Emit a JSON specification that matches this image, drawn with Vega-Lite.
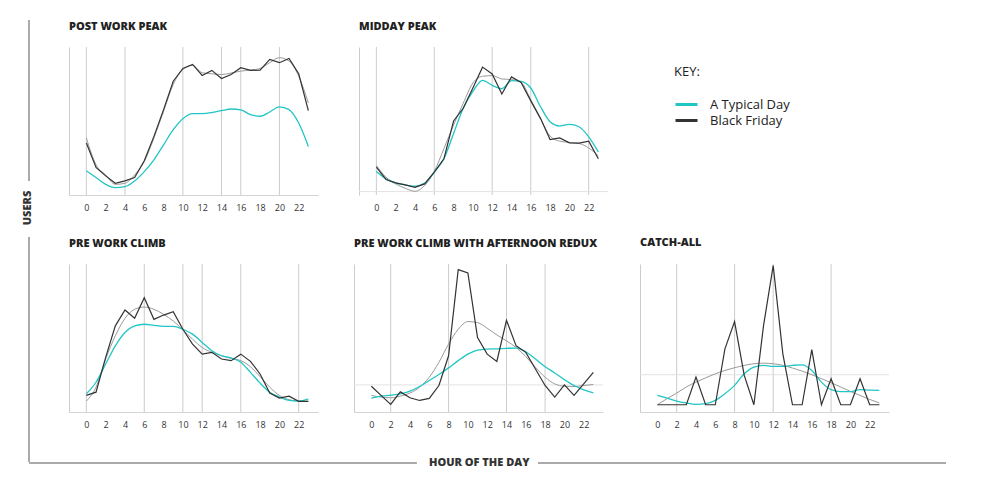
{
"$schema": "https://vega.github.io/schema/vega-lite/v6.json",
"padding": {"left": 21, "top": 19, "right": 5, "bottom": 5},
"spacing": -6,
"datasets": {
"series": [
{"panel":"post","hour":0,"typical":16.3,"friday":35.1,"smooth":38.5},
{"panel":"post","hour":1,"typical":11.8,"friday":18.6,"smooth":20.4},
{"panel":"post","hour":2,"typical":7.2,"friday":12.9,"smooth":13.6},
{"panel":"post","hour":3,"typical":5.0,"friday":7.9,"smooth":7.2},
{"panel":"post","hour":4,"typical":5.7,"friday":9.5,"smooth":7.9},
{"panel":"post","hour":5,"typical":9.5,"friday":11.8,"smooth":13.6},
{"panel":"post","hour":6,"typical":15.8,"friday":23.1,"smooth":22.6},
{"panel":"post","hour":7,"typical":23.8,"friday":39.6,"smooth":38.5},
{"panel":"post","hour":8,"typical":33.9,"friday":57.7,"smooth":56.6},
{"panel":"post","hour":9,"typical":44.1,"friday":76.9,"smooth":74.7},
{"panel":"post","hour":10,"typical":51.6,"friday":85.5,"smooth":84.8},
{"panel":"post","hour":11,"typical":55.0,"friday":88.2,"smooth":87.6},
{"panel":"post","hour":12,"typical":55.0,"friday":80.8,"smooth":82.6},
{"panel":"post","hour":13,"typical":55.7,"friday":84.2,"smooth":81.9},
{"panel":"post","hour":14,"typical":57.0,"friday":78.7,"smooth":81.4},
{"panel":"post","hour":15,"typical":58.1,"friday":81.4,"smooth":82.4},
{"panel":"post","hour":16,"typical":57.5,"friday":86.0,"smooth":83.7},
{"panel":"post","hour":17,"typical":54.3,"friday":84.2,"smooth":84.4},
{"panel":"post","hour":18,"typical":53.2,"friday":84.4,"smooth":85.5},
{"panel":"post","hour":19,"typical":56.1,"friday":91.6,"smooth":89.4},
{"panel":"post","hour":20,"typical":59.5,"friday":89.4,"smooth":92.8},
{"panel":"post","hour":21,"typical":57.7,"friday":92.3,"smooth":90.5},
{"panel":"post","hour":22,"typical":48.6,"friday":81.9,"smooth":80.3},
{"panel":"post","hour":23,"typical":32.8,"friday":57.0,"smooth":62.2},
{"panel":"midday","hour":0,"typical":15.9,"friday":18.9,"smooth":20.0},
{"panel":"midday","hour":1,"typical":10.9,"friday":10.5,"smooth":12.0},
{"panel":"midday","hour":2,"typical":8.2,"friday":8.2,"smooth":7.5},
{"panel":"midday","hour":3,"typical":6.8,"friday":6.8,"smooth":4.5},
{"panel":"midday","hour":4,"typical":5.9,"friday":5.2,"smooth":2.5},
{"panel":"midday","hour":5,"typical":8.0,"friday":7.5,"smooth":6.4},
{"panel":"midday","hour":6,"typical":15.5,"friday":15.5,"smooth":15.9},
{"panel":"midday","hour":7,"typical":24.5,"friday":24.5,"smooth":31.4},
{"panel":"midday","hour":8,"typical":41.6,"friday":50.0,"smooth":47.3},
{"panel":"midday","hour":9,"typical":58.6,"friday":58.6,"smooth":62.0},
{"panel":"midday","hour":10,"typical":70.0,"friday":72.3,"smooth":75.7},
{"panel":"midday","hour":11,"typical":77.5,"friday":86.4,"smooth":80.2},
{"panel":"midday","hour":12,"typical":74.1,"friday":81.8,"smooth":80.7},
{"panel":"midday","hour":13,"typical":71.8,"friday":68.2,"smooth":78.4},
{"panel":"midday","hour":14,"typical":77.3,"friday":79.8,"smooth":78.0},
{"panel":"midday","hour":15,"typical":76.8,"friday":76.1,"smooth":76.1},
{"panel":"midday","hour":16,"typical":72.3,"friday":63.6,"smooth":64.3},
{"panel":"midday","hour":17,"typical":59.8,"friday":51.8,"smooth":51.8},
{"panel":"midday","hour":18,"typical":49.5,"friday":37.5,"smooth":39.8},
{"panel":"midday","hour":19,"typical":46.6,"friday":38.6,"smooth":36.4},
{"panel":"midday","hour":20,"typical":47.7,"friday":35.2,"smooth":35.5},
{"panel":"midday","hour":21,"typical":46.1,"friday":35.0,"smooth":34.8},
{"panel":"midday","hour":22,"typical":39.3,"friday":36.4,"smooth":31.8},
{"panel":"midday","hour":23,"typical":29.1,"friday":24.5,"smooth":26.4},
{"panel":"pre","hour":0,"typical":12.3,"friday":11.2,"smooth":7.4},
{"panel":"pre","hour":1,"typical":20.1,"friday":13.4,"smooth":16.8},
{"panel":"pre","hour":2,"typical":32.4,"friday":36.9,"smooth":35.8},
{"panel":"pre","hour":3,"typical":44.7,"friday":58.2,"smooth":51.5},
{"panel":"pre","hour":4,"typical":53.7,"friday":68.9,"smooth":63.3},
{"panel":"pre","hour":5,"typical":58.2,"friday":63.3,"smooth":69.4},
{"panel":"pre","hour":6,"typical":59.3,"friday":77.2,"smooth":70.9},
{"panel":"pre","hour":7,"typical":58.6,"friday":62.6,"smooth":69.4},
{"panel":"pre","hour":8,"typical":57.9,"friday":65.5,"smooth":66.0},
{"panel":"pre","hour":9,"typical":57.9,"friday":67.8,"smooth":61.5},
{"panel":"pre","hour":10,"typical":55.9,"friday":55.9,"smooth":55.5},
{"panel":"pre","hour":11,"typical":52.6,"friday":45.9,"smooth":49.2},
{"panel":"pre","hour":12,"typical":47.0,"friday":39.1,"smooth":43.6},
{"panel":"pre","hour":13,"typical":41.4,"friday":40.3,"smooth":40.3},
{"panel":"pre","hour":14,"typical":38.0,"friday":35.8,"smooth":38.0},
{"panel":"pre","hour":15,"typical":36.5,"friday":34.7,"smooth":36.2},
{"panel":"pre","hour":16,"typical":33.6,"friday":39.1,"smooth":34.7},
{"panel":"pre","hour":17,"typical":26.8,"friday":34.2,"smooth":30.6},
{"panel":"pre","hour":18,"typical":19.5,"friday":25.7,"smooth":23.9},
{"panel":"pre","hour":19,"typical":13.4,"friday":12.8,"smooth":16.8},
{"panel":"pre","hour":20,"typical":10.1,"friday":9.4,"smooth":11.2},
{"panel":"pre","hour":21,"typical":7.8,"friday":10.7,"smooth":8.3},
{"panel":"pre","hour":22,"typical":7.4,"friday":7.2,"smooth":7.4},
{"panel":"pre","hour":23,"typical":8.9,"friday":7.2,"smooth":7.2},
{"panel":"redux","hour":0,"typical":9.4,"friday":17.4,"smooth":11.2},
{"panel":"redux","hour":1,"typical":10.7,"friday":11.2,"smooth":10.1},
{"panel":"redux","hour":2,"typical":11.4,"friday":5.1,"smooth":9.6},
{"panel":"redux","hour":3,"typical":12.3,"friday":13.6,"smooth":10.7},
{"panel":"redux","hour":4,"typical":14.1,"friday":9.6,"smooth":12.8},
{"panel":"redux","hour":5,"typical":17.2,"friday":7.8,"smooth":16.8},
{"panel":"redux","hour":6,"typical":21.3,"friday":9.2,"smooth":23.5},
{"panel":"redux","hour":7,"typical":25.3,"friday":17.9,"smooth":33.6},
{"panel":"redux","hour":8,"typical":29.8,"friday":38.0,"smooth":45.9},
{"panel":"redux","hour":9,"typical":34.7,"friday":96.2,"smooth":55.9},
{"panel":"redux","hour":10,"typical":39.1,"friday":94.0,"smooth":61.1},
{"panel":"redux","hour":11,"typical":41.8,"friday":50.3,"smooth":60.4},
{"panel":"redux","hour":12,"typical":42.5,"friday":39.1,"smooth":56.6},
{"panel":"redux","hour":13,"typical":42.7,"friday":34.2,"smooth":52.1},
{"panel":"redux","hour":14,"typical":43.0,"friday":62.0,"smooth":48.1},
{"panel":"redux","hour":15,"typical":43.2,"friday":44.7,"smooth":43.6},
{"panel":"redux","hour":16,"typical":40.7,"friday":40.3,"smooth":37.4},
{"panel":"redux","hour":17,"typical":35.8,"friday":29.1,"smooth":30.2},
{"panel":"redux","hour":18,"typical":30.6,"friday":17.9,"smooth":23.5},
{"panel":"redux","hour":19,"typical":26.4,"friday":10.1,"smooth":19.0},
{"panel":"redux","hour":20,"typical":21.9,"friday":18.3,"smooth":17.4},
{"panel":"redux","hour":21,"typical":17.9,"friday":11.2,"smooth":17.2},
{"panel":"redux","hour":22,"typical":15.0,"friday":19.0,"smooth":17.9},
{"panel":"redux","hour":23,"typical":13.0,"friday":26.8,"smooth":18.6},
{"panel":"catch","hour":0,"typical":11.2,"friday":4.9,"smooth":4.9},
{"panel":"catch","hour":1,"typical":9.4,"friday":4.9,"smooth":9.0},
{"panel":"catch","hour":2,"typical":7.4,"friday":4.9,"smooth":12.8},
{"panel":"catch","hour":3,"typical":6.1,"friday":4.9,"smooth":16.9},
{"panel":"catch","hour":4,"typical":5.2,"friday":23.6,"smooth":20.2},
{"panel":"catch","hour":5,"typical":5.6,"friday":4.9,"smooth":23.1},
{"panel":"catch","hour":6,"typical":7.9,"friday":4.9,"smooth":25.8},
{"panel":"catch","hour":7,"typical":12.4,"friday":42.7,"smooth":28.1},
{"panel":"catch","hour":8,"typical":18.0,"friday":61.1,"smooth":29.9},
{"panel":"catch","hour":9,"typical":25.8,"friday":24.7,"smooth":31.5},
{"panel":"catch","hour":10,"typical":30.3,"friday":4.9,"smooth":32.6},
{"panel":"catch","hour":11,"typical":31.5,"friday":58.4,"smooth":33.0},
{"panel":"catch","hour":12,"typical":30.8,"friday":98.9,"smooth":32.6},
{"panel":"catch","hour":13,"typical":30.8,"friday":39.3,"smooth":31.5},
{"panel":"catch","hour":14,"typical":31.5,"friday":4.9,"smooth":29.7},
{"panel":"catch","hour":15,"typical":31.9,"friday":4.9,"smooth":27.6},
{"panel":"catch","hour":16,"typical":28.1,"friday":42.2,"smooth":25.2},
{"panel":"catch","hour":17,"typical":20.2,"friday":4.9,"smooth":22.5},
{"panel":"catch","hour":18,"typical":15.1,"friday":22.5,"smooth":19.8},
{"panel":"catch","hour":19,"typical":13.7,"friday":4.9,"smooth":16.9},
{"panel":"catch","hour":20,"typical":13.7,"friday":4.9,"smooth":13.9},
{"panel":"catch","hour":21,"typical":15.1,"friday":22.5,"smooth":11.2},
{"panel":"catch","hour":22,"typical":14.8,"friday":4.9,"smooth":8.5},
{"panel":"catch","hour":23,"typical":14.6,"friday":4.9,"smooth":6.1}
],
"grid": [
{"panel":"post","hour":0},{"panel":"post","hour":4},{"panel":"post","hour":10},{"panel":"post","hour":14},{"panel":"post","hour":16},{"panel":"post","hour":20},
{"panel":"midday","hour":0},{"panel":"midday","hour":6},{"panel":"midday","hour":12},{"panel":"midday","hour":16},{"panel":"midday","hour":22},
{"panel":"pre","hour":0},{"panel":"pre","hour":6},{"panel":"pre","hour":10},{"panel":"pre","hour":12},{"panel":"pre","hour":16},{"panel":"pre","hour":22},
{"panel":"redux","hour":2},{"panel":"redux","hour":8},{"panel":"redux","hour":14},{"panel":"redux","hour":18},
{"panel":"catch","hour":2},{"panel":"catch","hour":8},{"panel":"catch","hour":12},{"panel":"catch","hour":18}
]
},
"vconcat": [
{
"spacing": 36,
"hconcat": [
{
"width": 1, "height": 415,
"data": {"values": [{}]},
"layer": [
{"mark": {"type": "rule", "color": "#aaaaaa", "strokeWidth": 2},
 "encoding": {"x": {"datum": 0, "type": "quantitative", "scale": {"domain": [0, 1]}, "axis": null},
              "y": {"datum": -0.065, "type": "quantitative", "scale": {"domain": [0, 1], "reverse": true}, "axis": null},
              "y2": {"datum": 0.323}}},
{"mark": {"type": "rule", "color": "#aaaaaa", "strokeWidth": 2},
 "encoding": {"x": {"datum": 0, "type": "quantitative"},
              "y": {"datum": 0.458, "type": "quantitative"},
              "y2": {"datum": 1}}},
{"mark": {"type": "text", "text": "USERS", "angle": 270, "align": "center", "baseline": "middle", "font": "Open Sans", "fontSize": 11, "fontWeight": 800, "color": "#333333", "dy": -1.5},
 "encoding": {"x": {"datum": 0, "type": "quantitative"},
              "y": {"datum": 0.388, "type": "quantitative"}}}
]
},
{
"spacing": 25,
"vconcat": [
{
"spacing": 40,
"hconcat": [
{"title": "POST WORK PEAK", "width": 249, "height": 148,
 "layer": [
  {"data": {"name": "grid"}, "transform": [{"filter": "datum.panel === 'post'"}], "mark": {"type": "rule", "color": "#cccccc", "strokeWidth": 1},
   "encoding": {"x": {"field": "hour", "type": "quantitative", "scale": {"domain": [-1.8, 24], "nice": false, "zero": false}, "axis": {"values": [0,2,4,6,8,10,12,14,16,18,20,22], "title": null, "labelOverlap": false}}}},
  {"data": {"name": "series"}, "transform": [{"filter": "datum.panel === 'post'"}], "mark": {"type": "line", "interpolate": "monotone", "color": "#9a9a9a", "strokeWidth": 1},
   "encoding": {"x": {"field": "hour", "type": "quantitative", "axis": {"values": [0,2,4,6,8,10,12,14,16,18,20,22], "title": null, "labelOverlap": false}}, "y": {"field": "smooth", "type": "quantitative", "scale": {"domain": [0, 100], "nice": false}, "axis": {"title": null}}}},
  {"data": {"name": "series"}, "transform": [{"filter": "datum.panel === 'post'"}], "mark": {"type": "line", "interpolate": "monotone", "strokeWidth": 1.3},
   "encoding": {"x": {"field": "hour", "type": "quantitative", "axis": {"values": [0,2,4,6,8,10,12,14,16,18,20,22], "title": null, "labelOverlap": false}}, "y": {"field": "typical", "type": "quantitative", "axis": {"title": null}},
    "color": {"datum": "A Typical Day", "type": "nominal", "scale": {"domain": ["A Typical Day", "Black Friday"], "range": ["#22c5c5", "#333333"]}, "legend": {"orient": "none", "legendX": 645, "legendY": 19, "title": "KEY:", "clipHeight": 15, "rowPadding": 1}}}},
  {"data": {"name": "series"}, "transform": [{"filter": "datum.panel === 'post'"}], "mark": {"type": "line", "strokeWidth": 1.2},
   "encoding": {"x": {"field": "hour", "type": "quantitative", "axis": {"values": [0,2,4,6,8,10,12,14,16,18,20,22], "title": null, "labelOverlap": false}}, "y": {"field": "friday", "type": "quantitative", "axis": {"title": null}},
    "color": {"datum": "Black Friday", "type": "nominal"}}}
 ]},
{"title": "MIDDAY PEAK", "width": 249, "height": 148,
 "layer": [
  {"data": {"name": "grid"}, "transform": [{"filter": "datum.panel === 'midday'"}], "mark": {"type": "rule", "color": "#cccccc", "strokeWidth": 1},
   "encoding": {"x": {"field": "hour", "type": "quantitative", "scale": {"domain": [-1.8, 24], "nice": false, "zero": false}, "axis": {"values": [0,2,4,6,8,10,12,14,16,18,20,22], "title": null, "labelOverlap": false, "domain": false}}}},
  {"data": {"values": [{}]}, "mark": {"type": "rule", "color": "#e3e3e3", "strokeWidth": 1},
   "encoding": {"y": {"datum": 2.3, "type": "quantitative"}}},
  {"data": {"name": "series"}, "transform": [{"filter": "datum.panel === 'midday'"}], "mark": {"type": "line", "interpolate": "monotone", "color": "#9a9a9a", "strokeWidth": 1},
   "encoding": {"x": {"field": "hour", "type": "quantitative", "axis": {"values": [0,2,4,6,8,10,12,14,16,18,20,22], "title": null, "labelOverlap": false, "domain": false}}, "y": {"field": "smooth", "type": "quantitative", "scale": {"domain": [0, 100], "nice": false}, "axis": {"title": null}}}},
  {"data": {"name": "series"}, "transform": [{"filter": "datum.panel === 'midday'"}], "mark": {"type": "line", "interpolate": "monotone", "strokeWidth": 1.3},
   "encoding": {"x": {"field": "hour", "type": "quantitative", "axis": {"values": [0,2,4,6,8,10,12,14,16,18,20,22], "title": null, "labelOverlap": false, "domain": false}}, "y": {"field": "typical", "type": "quantitative", "axis": {"title": null}},
    "color": {"datum": "A Typical Day", "type": "nominal"}}},
  {"data": {"name": "series"}, "transform": [{"filter": "datum.panel === 'midday'"}], "mark": {"type": "line", "strokeWidth": 1.2},
   "encoding": {"x": {"field": "hour", "type": "quantitative", "axis": {"values": [0,2,4,6,8,10,12,14,16,18,20,22], "title": null, "labelOverlap": false, "domain": false}}, "y": {"field": "friday", "type": "quantitative", "axis": {"title": null}},
    "color": {"datum": "Black Friday", "type": "nominal"}}}
 ]}
]
},
{
"spacing": 35,
"hconcat": [
{"title": "PRE WORK CLIMB", "width": 249, "height": 148,
 "layer": [
  {"data": {"name": "grid"}, "transform": [{"filter": "datum.panel === 'pre'"}], "mark": {"type": "rule", "color": "#cccccc", "strokeWidth": 1},
   "encoding": {"x": {"field": "hour", "type": "quantitative", "scale": {"domain": [-1.8, 24], "nice": false, "zero": false}, "axis": {"values": [0,2,4,6,8,10,12,14,16,18,20,22], "title": null, "labelOverlap": false}}}},
  {"data": {"name": "series"}, "transform": [{"filter": "datum.panel === 'pre'"}], "mark": {"type": "line", "interpolate": "monotone", "color": "#9a9a9a", "strokeWidth": 1},
   "encoding": {"x": {"field": "hour", "type": "quantitative", "axis": {"values": [0,2,4,6,8,10,12,14,16,18,20,22], "title": null, "labelOverlap": false}}, "y": {"field": "smooth", "type": "quantitative", "scale": {"domain": [0, 100], "nice": false}, "axis": {"title": null}}}},
  {"data": {"name": "series"}, "transform": [{"filter": "datum.panel === 'pre'"}], "mark": {"type": "line", "interpolate": "monotone", "strokeWidth": 1.3},
   "encoding": {"x": {"field": "hour", "type": "quantitative", "axis": {"values": [0,2,4,6,8,10,12,14,16,18,20,22], "title": null, "labelOverlap": false}}, "y": {"field": "typical", "type": "quantitative", "axis": {"title": null}},
    "color": {"datum": "A Typical Day", "type": "nominal"}}},
  {"data": {"name": "series"}, "transform": [{"filter": "datum.panel === 'pre'"}], "mark": {"type": "line", "strokeWidth": 1.2},
   "encoding": {"x": {"field": "hour", "type": "quantitative", "axis": {"values": [0,2,4,6,8,10,12,14,16,18,20,22], "title": null, "labelOverlap": false}}, "y": {"field": "friday", "type": "quantitative", "axis": {"title": null}},
    "color": {"datum": "Black Friday", "type": "nominal"}}}
 ]},
{"title": "PRE WORK CLIMB WITH AFTERNOON REDUX", "width": 249, "height": 148,
 "layer": [
  {"data": {"name": "grid"}, "transform": [{"filter": "datum.panel === 'redux'"}], "mark": {"type": "rule", "color": "#cccccc", "strokeWidth": 1},
   "encoding": {"x": {"field": "hour", "type": "quantitative", "scale": {"domain": [-1.8, 24], "nice": false, "zero": false}, "axis": {"values": [0,2,4,6,8,10,12,14,16,18,20,22], "title": null, "labelOverlap": false}}}},
  {"data": {"values": [{}]}, "mark": {"type": "rule", "color": "#e3e3e3", "strokeWidth": 1},
   "encoding": {"y": {"datum": 18.3, "type": "quantitative"}}},
  {"data": {"name": "series"}, "transform": [{"filter": "datum.panel === 'redux'"}], "mark": {"type": "line", "interpolate": "monotone", "color": "#9a9a9a", "strokeWidth": 1},
   "encoding": {"x": {"field": "hour", "type": "quantitative", "axis": {"values": [0,2,4,6,8,10,12,14,16,18,20,22], "title": null, "labelOverlap": false}}, "y": {"field": "smooth", "type": "quantitative", "scale": {"domain": [0, 100], "nice": false}, "axis": {"title": null}}}},
  {"data": {"name": "series"}, "transform": [{"filter": "datum.panel === 'redux'"}], "mark": {"type": "line", "interpolate": "monotone", "strokeWidth": 1.3},
   "encoding": {"x": {"field": "hour", "type": "quantitative", "axis": {"values": [0,2,4,6,8,10,12,14,16,18,20,22], "title": null, "labelOverlap": false}}, "y": {"field": "typical", "type": "quantitative", "axis": {"title": null}},
    "color": {"datum": "A Typical Day", "type": "nominal"}}},
  {"data": {"name": "series"}, "transform": [{"filter": "datum.panel === 'redux'"}], "mark": {"type": "line", "strokeWidth": 1.2},
   "encoding": {"x": {"field": "hour", "type": "quantitative", "axis": {"values": [0,2,4,6,8,10,12,14,16,18,20,22], "title": null, "labelOverlap": false}}, "y": {"field": "friday", "type": "quantitative", "axis": {"title": null}},
    "color": {"datum": "Black Friday", "type": "nominal"}}}
 ]},
{"title": "CATCH-ALL", "width": 249, "height": 148,
 "layer": [
  {"data": {"name": "grid"}, "transform": [{"filter": "datum.panel === 'catch'"}], "mark": {"type": "rule", "color": "#cccccc", "strokeWidth": 1},
   "encoding": {"x": {"field": "hour", "type": "quantitative", "scale": {"domain": [-1.8, 24], "nice": false, "zero": false}, "axis": {"values": [0,2,4,6,8,10,12,14,16,18,20,22], "title": null, "labelOverlap": false}}}},
  {"data": {"values": [{}]}, "mark": {"type": "rule", "color": "#e3e3e3", "strokeWidth": 1},
   "encoding": {"y": {"datum": 25.2, "type": "quantitative"}}},
  {"data": {"name": "series"}, "transform": [{"filter": "datum.panel === 'catch'"}], "mark": {"type": "line", "interpolate": "monotone", "color": "#9a9a9a", "strokeWidth": 1},
   "encoding": {"x": {"field": "hour", "type": "quantitative", "axis": {"values": [0,2,4,6,8,10,12,14,16,18,20,22], "title": null, "labelOverlap": false}}, "y": {"field": "smooth", "type": "quantitative", "scale": {"domain": [0, 100], "nice": false}, "axis": {"title": null}}}},
  {"data": {"name": "series"}, "transform": [{"filter": "datum.panel === 'catch'"}], "mark": {"type": "line", "interpolate": "monotone", "strokeWidth": 1.3},
   "encoding": {"x": {"field": "hour", "type": "quantitative", "axis": {"values": [0,2,4,6,8,10,12,14,16,18,20,22], "title": null, "labelOverlap": false}}, "y": {"field": "typical", "type": "quantitative", "axis": {"title": null}},
    "color": {"datum": "A Typical Day", "type": "nominal"}}},
  {"data": {"name": "series"}, "transform": [{"filter": "datum.panel === 'catch'"}], "mark": {"type": "line", "strokeWidth": 1.2},
   "encoding": {"x": {"field": "hour", "type": "quantitative", "axis": {"values": [0,2,4,6,8,10,12,14,16,18,20,22], "title": null, "labelOverlap": false}}, "y": {"field": "friday", "type": "quantitative", "axis": {"title": null}},
    "color": {"datum": "Black Friday", "type": "nominal"}}}
 ]}
]
}
]
}
]
},
{
"width": 917, "height": 1,
"data": {"values": [{}]},
"layer": [
{"mark": {"type": "rule", "color": "#aaaaaa", "strokeWidth": 2},
 "encoding": {"x": {"datum": 0, "type": "quantitative", "scale": {"domain": [0, 1]}, "axis": null},
              "x2": {"datum": 0.423},
              "y": {"datum": 1, "type": "quantitative", "scale": {"domain": [0, 1]}, "axis": null}}},
{"mark": {"type": "rule", "color": "#aaaaaa", "strokeWidth": 2},
 "encoding": {"x": {"datum": 0.555, "type": "quantitative"},
              "x2": {"datum": 1},
              "y": {"datum": 1, "type": "quantitative"}}},
{"mark": {"type": "text", "text": "HOUR OF THE DAY", "align": "center", "baseline": "middle", "font": "Open Sans", "fontSize": 11, "fontWeight": 800, "color": "#333333"},
 "encoding": {"x": {"datum": 0.491, "type": "quantitative"},
              "y": {"datum": 1, "type": "quantitative"}}}
]
}
],
"config": {
"font": "Open Sans",
"view": {"stroke": null},
"title": {"anchor": "start", "font": "Open Sans", "fontSize": 11, "fontWeight": 800, "color": "#222222", "baseline": "alphabetic", "offset": 15, "frame": "group"},
"axisX": {"grid": false, "ticks": false, "labelFontSize": 9, "labelColor": "#333333", "labelPadding": 8, "labelOverlap": false, "domainColor": "#d4d4d4", "labelFont": "Open Sans", "labelAngle": 0},
"axisY": {"grid": false, "ticks": false, "labels": false, "domainColor": "#cccccc"},
"legend": {"titleFontSize": 13, "titleFontWeight": "normal", "titleColor": "#222222", "titleFont": "Open Sans", "titlePadding": 18, "labelFontSize": 13, "labelFont": "Open Sans", "labelColor": "#222222", "labelOffset": 11, "symbolType": "stroke", "symbolStrokeWidth": 3, "symbolSize": 484, "padding": 0}
}
}
